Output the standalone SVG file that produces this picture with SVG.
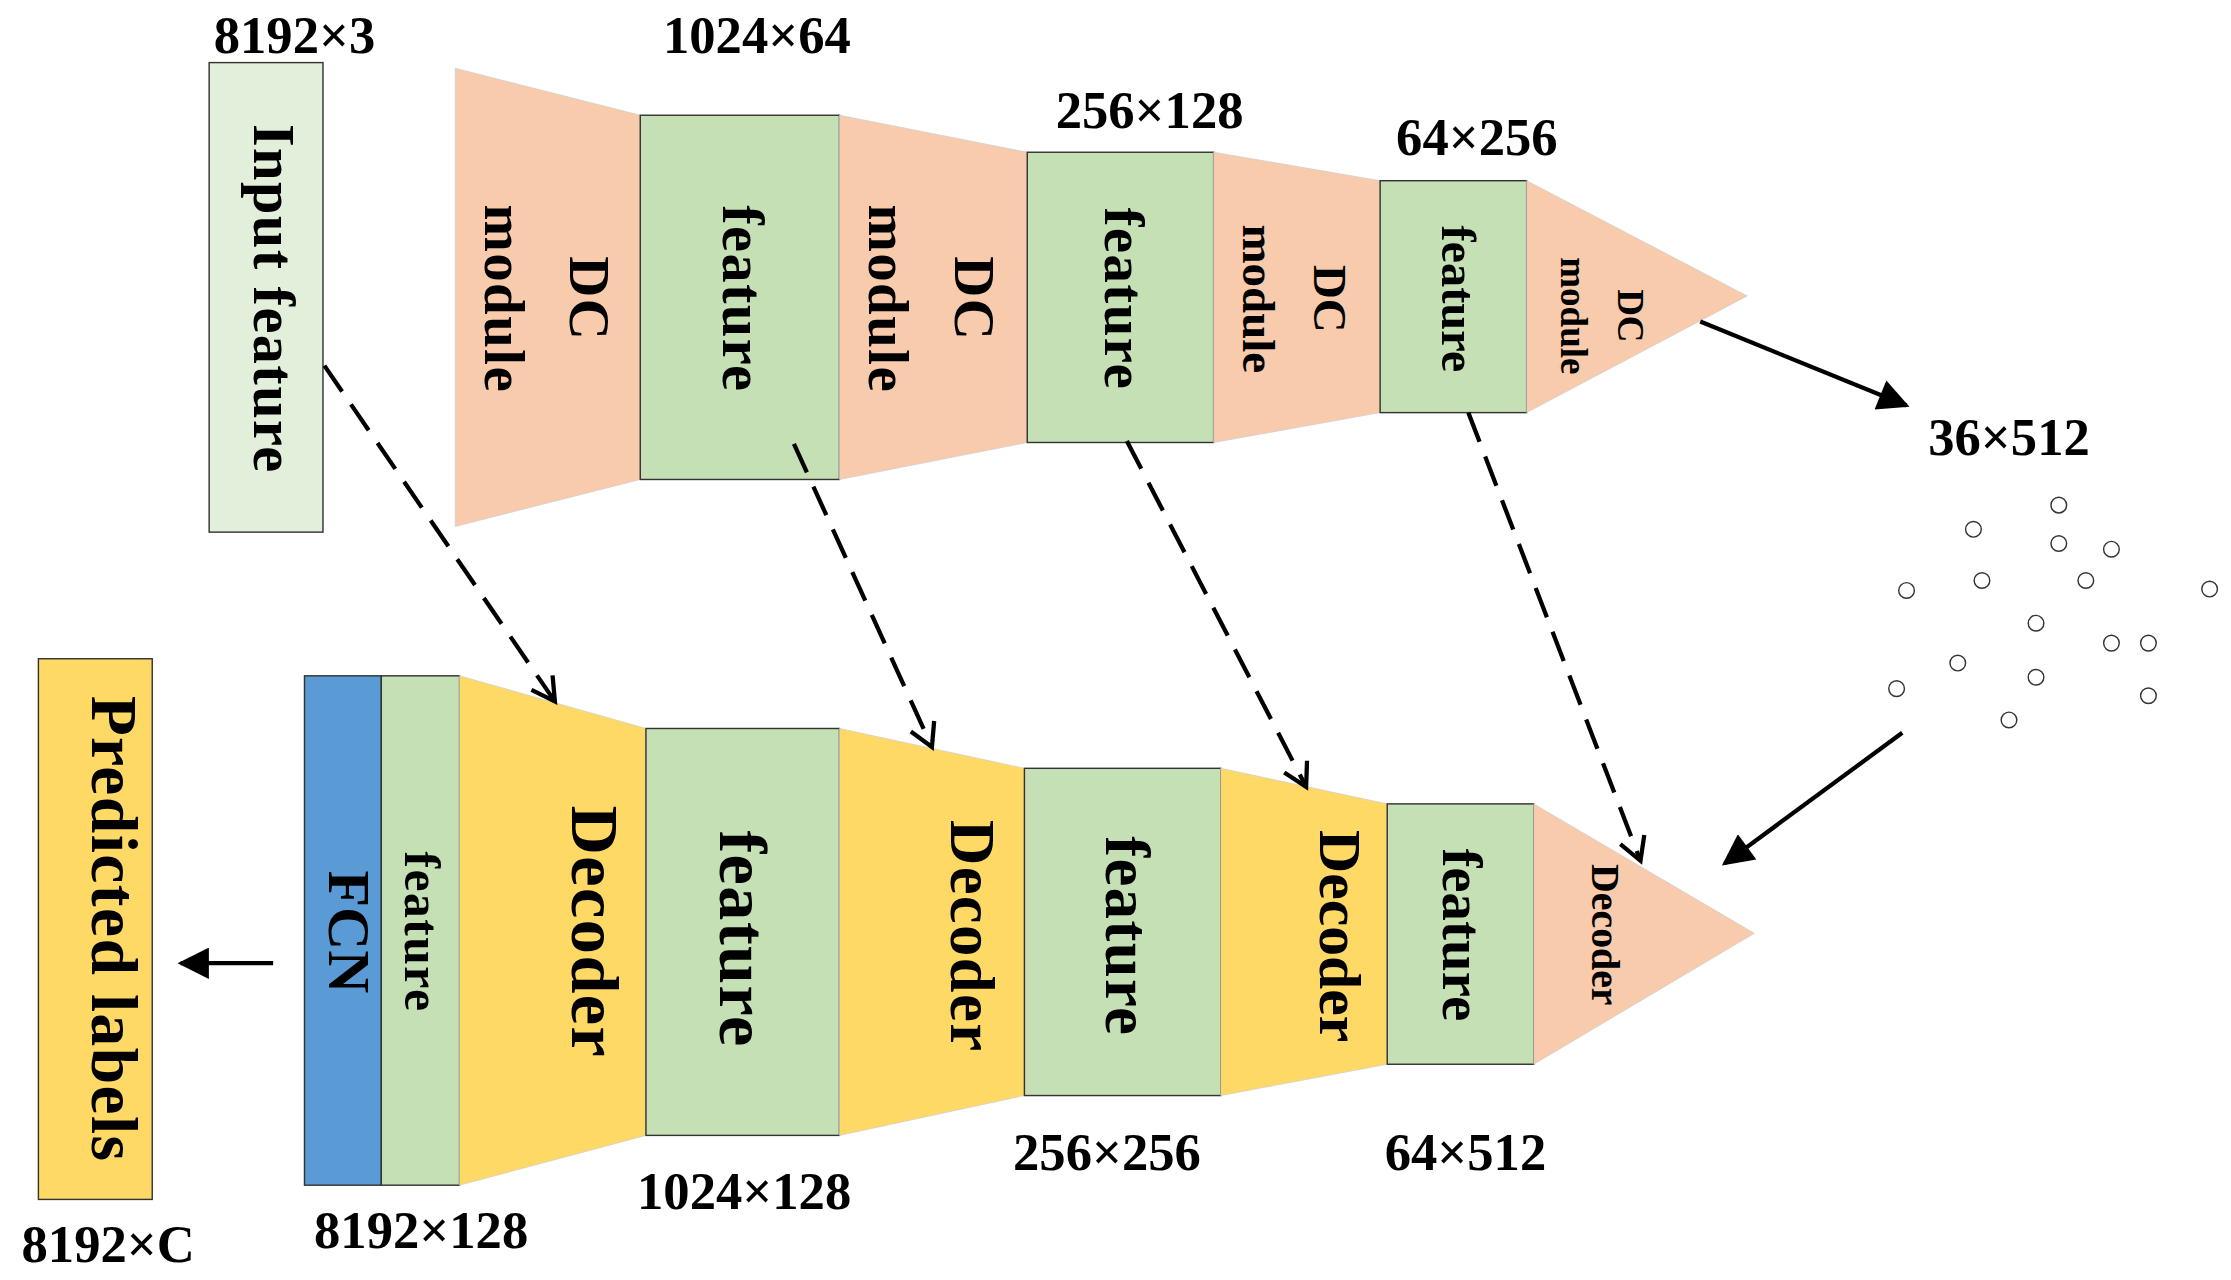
<svg xmlns="http://www.w3.org/2000/svg" width="2231" height="1280" viewBox="0 0 2231 1280">
<style>
text{font-family:"Liberation Serif","Times New Roman",serif;font-weight:bold;fill:#000}
.lbl{font-size:37px;text-anchor:middle}
.r{text-anchor:middle;dominant-baseline:central}
.feat{fill:#c5e0b4;stroke:#333;stroke-width:1}
.dc{fill:#f8cbad;stroke:#ccc;stroke-width:0.5}
.dec{fill:#ffd966;stroke:#ccc;stroke-width:0.5}
.dash{stroke:#000;stroke-width:3;stroke-dasharray:22,11;fill:none}
.solid{stroke:#000;stroke-width:3;fill:none}
.pt{fill:#fff;stroke:#333;stroke-width:1}
</style>
<defs>
<marker id="open" viewBox="-20 -12 24 24" refX="0" refY="0" markerWidth="24" markerHeight="24" markerUnits="userSpaceOnUse" orient="auto" overflow="visible">
<path d="M-16,-9 L0,0 L-16,9" fill="none" stroke="#000" stroke-width="3"/>
</marker>
<marker id="fill" viewBox="0 0 10 10" refX="9" refY="5" markerWidth="24" markerHeight="22" markerUnits="userSpaceOnUse" orient="auto">
<path d="M0,0 L10,5 L0,10 Z" fill="#000"/>
</marker>
</defs>
<g transform="scale(1.4228)">
<g id="labels">
<text class="lbl" x="207" y="37">8192×3</text>
<text class="lbl" x="532" y="37">1024×64</text>
<text class="lbl" x="808" y="90">256×128</text>
<text class="lbl" x="1038" y="109">64×256</text>
<text class="lbl" x="1412" y="320">36×512</text>
<text class="lbl" x="76" y="887">8192×C</text>
<text class="lbl" x="296" y="877">8192×128</text>
<text class="lbl" x="523" y="850">1024×128</text>
<text class="lbl" x="778" y="822">256×256</text>
<text class="lbl" x="1030" y="822">64×512</text>
</g>
<g id="input"><rect x="147" y="44" width="80" height="330" fill="#e2efda" stroke="#333"/>
<text class="r" font-size="41" letter-spacing="1" transform="translate(192,210) rotate(90)">Input feature</text></g>
<g id="dc1"><polygon class="dc" points="320,48 450,81 450,337 320,370"/>
<text class="r" font-size="40" letter-spacing="1" transform="translate(385,210) rotate(90)"><tspan x="0" y="-30">DC</tspan><tspan x="0" y="30">module</tspan></text></g>
<g id="f1"><rect class="feat" x="450" y="81" width="140" height="256"/>
<text class="r" font-size="41" letter-spacing="1" transform="translate(522,210) rotate(90)">feature</text></g>
<g id="dc2"><polygon class="dc" points="590,81 722,107 722,311 590,337"/>
<text class="r" font-size="40" letter-spacing="1" transform="translate(655,210) rotate(90)"><tspan x="0" y="-30">DC</tspan><tspan x="0" y="30">module</tspan></text></g>
<g id="f2"><rect class="feat" x="722" y="107" width="131" height="204"/>
<text class="r" font-size="40" letter-spacing="1" transform="translate(790,210) rotate(90)">feature</text></g>
<g id="dc3"><polygon class="dc" points="853,107 970,127 970,290 853,311"/>
<text class="r" font-size="33" transform="translate(910,210) rotate(90)"><tspan x="0" y="-25">DC</tspan><tspan x="0" y="25">module</tspan></text></g>
<g id="f3"><rect class="feat" x="970" y="127" width="103" height="163"/>
<text class="r" font-size="34" transform="translate(1025,210) rotate(90)">feature</text></g>
<g id="dc4"><polygon class="dc" points="1073,127 1228,208 1073,290"/>
<text class="r" font-size="26" transform="translate(1126,222) rotate(90)"><tspan x="0" y="-20">DC</tspan><tspan x="0" y="20">module</tspan></text></g>
<g id="points">
<circle class="pt" cx="1447" cy="355" r="5.5"/><circle class="pt" cx="1387" cy="372" r="5.5"/><circle class="pt" cx="1447" cy="382" r="5.5"/><circle class="pt" cx="1484" cy="386" r="5.5"/><circle class="pt" cx="1393" cy="408" r="5.5"/><circle class="pt" cx="1466" cy="408" r="5.5"/><circle class="pt" cx="1340" cy="415" r="5.5"/><circle class="pt" cx="1553" cy="414" r="5.5"/><circle class="pt" cx="1431" cy="438" r="5.5"/><circle class="pt" cx="1484" cy="452" r="5.5"/><circle class="pt" cx="1510" cy="452" r="5.5"/><circle class="pt" cx="1376" cy="466" r="5.5"/><circle class="pt" cx="1431" cy="476" r="5.5"/><circle class="pt" cx="1333" cy="484" r="5.5"/><circle class="pt" cx="1510" cy="489" r="5.5"/><circle class="pt" cx="1412" cy="506" r="5.5"/>
</g>
<g id="pred"><rect x="27" y="463" width="80" height="380" fill="#ffd966" stroke="#333"/>
<text class="r" font-size="46" letter-spacing="1" transform="translate(80,653) rotate(90)">Predicted labels</text></g>
<g id="fcn"><rect x="214" y="475" width="54" height="358" fill="#5b9bd5" stroke="#333"/>
<text class="r" font-size="42" transform="translate(245,655) rotate(90)">FCN</text></g>
<g id="bf0"><rect class="feat" x="268" y="475" width="55" height="358"/>
<text class="r" font-size="35" letter-spacing="1" transform="translate(296,655) rotate(90)">feature</text></g>
<g id="d1"><polygon class="dec" points="323,475 454,512 454,798 323,833"/>
<text class="r" font-size="48" letter-spacing="1" transform="translate(418,655) rotate(90)">Decoder</text></g>
<g id="bf1"><rect class="feat" x="454" y="512" width="136" height="286"/>
<text class="r" font-size="48" letter-spacing="1" transform="translate(522,660) rotate(90)">feature</text></g>
<g id="d2"><polygon class="dec" points="590,512 720,540 720,770 590,798"/>
<text class="r" font-size="44" letter-spacing="1" transform="translate(683,658) rotate(90)">Decoder</text></g>
<g id="bf2"><rect class="feat" x="720" y="540" width="138" height="230"/>
<text class="r" font-size="44" letter-spacing="1" transform="translate(792,658) rotate(90)">feature</text></g>
<g id="d3"><polygon class="dec" points="858,540 975,565 975,748 858,770"/>
<text class="r" font-size="42" transform="translate(942,658) rotate(90)">Decoder</text></g>
<g id="bf3"><rect class="feat" x="975" y="565" width="103" height="183"/>
<text class="r" font-size="40" transform="translate(1028,657) rotate(90)">feature</text></g>
<g id="d4"><polygon class="dc" points="1078,565 1233,656 1078,748"/>
<text class="r" font-size="28" transform="translate(1128,657) rotate(90)">Decoder</text></g>
<g id="connectors">
<line class="dash" x1="228" y1="257" x2="390" y2="493" marker-end="url(#open)"/>
<line class="dash" x1="558" y1="312" x2="655" y2="525" marker-end="url(#open)"/>
<line class="dash" x1="792" y1="310" x2="918" y2="553" marker-end="url(#open)"/>
<line class="dash" x1="1032" y1="290" x2="1153" y2="605" marker-end="url(#open)"/>
<line class="solid" x1="1195" y1="226" x2="1340" y2="285" marker-end="url(#fill)"/>
<line class="solid" x1="1337" y1="515" x2="1212" y2="607" marker-end="url(#fill)"/>
<line class="solid" x1="192" y1="677" x2="127" y2="677" marker-end="url(#fill)"/>
</g>
</g>
</svg>
